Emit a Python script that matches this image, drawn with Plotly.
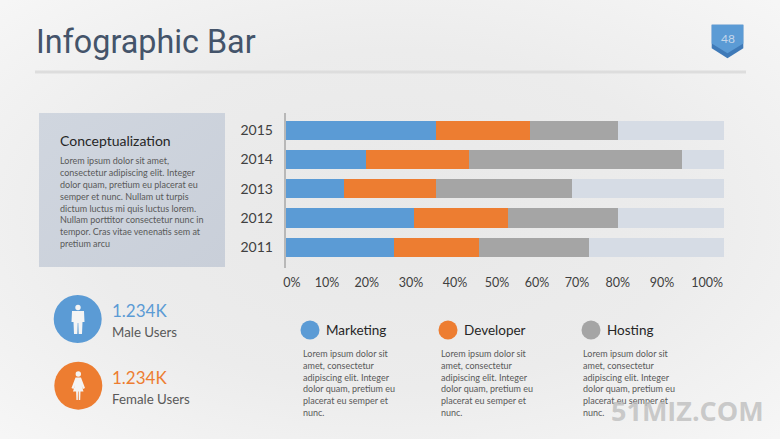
import base64
import plotly.graph_objects as go

W, H = 780, 439

# ---- data ----
years = ["2011", "2012", "2013", "2014", "2015"]
marketing = [24.6, 29.2, 13.2, 18.2, 34.3]
developer = [19.5, 21.5, 21.1, 23.7, 21.4]
hosting = [25.0, 25.1, 30.9, 48.5, 20.1]
remainder = [30.9, 24.2, 34.8, 9.6, 24.2]
tick_labels = ["0%", "10%", "20%", "30%", "40%", "50%", "60%", "70%", "80%", "90%", "100%"]
# label positions as drawn in the source chart, on the same 0-100 track scale
tick_positions = [1.4, 9.4, 18.5, 28.6, 38.6, 48.2, 57.3, 66.4, 75.7, 85.8, 96.1]

C_BLUE, C_ORANGE, C_GRAY, C_TRACK = "#5b9bd5", "#ed7d31", "#a5a5a5", "#d6dce5"
C_TEXT = "#595959"
LOREM_PANEL = ["Lorem ipsum dolor sit amet,", "consectetur adipiscing elit. Integer",
               "dolor quam, pretium eu placerat eu", "semper et nunc. Nullam ut turpis",
               "dictum luctus mi quis luctus lorem.", "Nullam porttitor consectetur nunc in",
               "tempor. Cras vitae venenatis sem at", "pretium arcu"]
LOREM_COL = ["Lorem ipsum dolor sit", "amet, consectetur", "adipiscing elit. Integer",
             "dolor quam, pretium eu", "placerat eu semper et", "nunc."]


def px(x):
    return x / W


def py(y):
    return 1 - y / H


fig = go.Figure()
for name, vals, col in [("Marketing", marketing, C_BLUE), ("Developer", developer, C_ORANGE),
                        ("Hosting", hosting, C_GRAY), ("Remainder", remainder, C_TRACK)]:
    fig.add_bar(y=years, x=vals, name=name, orientation="h", marker=dict(color=col, line_width=0),
                showlegend=False)

bg_svg = f'''<svg xmlns="http://www.w3.org/2000/svg" width="{W}" height="{H}">
<defs><radialGradient id="g" cx="50%" cy="50%" r="70%">
<stop offset="0" stop-color="#e8e8e8"/><stop offset="0.55" stop-color="#ececec"/><stop offset="1" stop-color="#f6f6f6"/>
</radialGradient>
<linearGradient id="p" x1="0" y1="0" x2="1" y2="1"><stop offset="0" stop-color="#d0d6df"/><stop offset="1" stop-color="#c9cfd9"/></linearGradient>
</defs>
<rect width="{W}" height="{H}" fill="url(#g)"/>
<rect x="39" y="113" width="186" height="154" fill="url(#p)"/>
</svg>'''
bg_uri = "data:image/svg+xml;base64," + base64.b64encode(bg_svg.encode()).decode()

shapes = []


def circle(cx, cy, r, col):
    shapes.append(dict(type="circle", xref="paper", yref="paper", layer="above",
                       x0=px(cx - r), x1=px(cx + r), y0=py(cy + r), y1=py(cy - r),
                       fillcolor=col, line_width=0))


def poly(points, col):
    d = "M" + " L".join(f"{px(x):.5f},{py(y):.5f}" for x, y in points) + " Z"
    shapes.append(dict(type="path", xref="paper", yref="paper", layer="above", path=d,
                       fillcolor=col, line_width=0))


# title rule
shapes.append(dict(type="rect", xref="paper", yref="paper", layer="below", x0=px(35), x1=px(746),
                   y0=py(73.5), y1=py(70.5), fillcolor="#dddddd", line_width=0))
# page badge
poly([(711.7, 24.7), (743.3, 24.7), (743.3, 48.3), (727.5, 58.3), (711.7, 48.3)], "#3f7ab8")
poly([(711.7, 24.7), (743.3, 24.7), (743.3, 43.5), (727.5, 53.3), (711.7, 43.5)], "#5b9bd5")

# user circles
circle(77.7, 319, 24, C_BLUE)
circle(78.3, 385.7, 24, C_ORANGE)
# male icon
circle(78, 307.5, 2.7, "#f4f4f4")
poly([(72, 311), (84, 311), (84.5, 322), (82.5, 322), (82, 334), (78.7, 334), (78.3, 323),
      (77.7, 323), (77.3, 334), (74, 334), (73.5, 322), (71.5, 322)], "#f4f4f4")
# female icon
circle(78.3, 374, 2.7, "#f4f4f4")
poly([(75.5, 377.5), (81, 377.5), (85, 388), (83, 389), (81.5, 385), (83.5, 391.5), (80.5, 391.5),
      (80.2, 400), (78.8, 400), (78.6, 391.5), (78, 391.5), (77.8, 400), (76.4, 400), (76.1, 391.5),
      (73, 391.5), (75, 385), (73.5, 389), (71.5, 388)], "#f4f4f4")
# legend circles
for cx, col in [(310, C_BLUE), (448, C_ORANGE), (591, C_GRAY)]:
    circle(cx, 330, 9.5, col)

ann = []


def text(x, y, s, size, col, font="Lato", anchor="left"):
    ann.append(dict(xref="paper", yref="paper", x=px(x), y=py(y), text=s, showarrow=False,
                    xanchor=anchor, yanchor="middle", xshift=0,
                    font=dict(family=font, size=size, color=col), borderpad=0))


text(35, 42, "Infographic Bar", 32.3, "#44546a", "Roboto")
text(727.5, 38.5, "48", 12, "#c3d6ea", "Lato", "center")
text(59, 140, "Conceptualization", 14, "#262626")
for i, line in enumerate(LOREM_PANEL):
    text(59, 161 + i * 11.75, line, 9, C_TEXT)
text(111, 310, "1.234K", 17, C_BLUE, "Lato")
text(111, 331.5, "Male Users", 13.3, C_TEXT)
text(111, 377.5, "1.234K", 17, C_ORANGE, "Lato")
text(111, 398.5, "Female Users", 13.3, C_TEXT)
for x0, xb, name in [(324.5, 301.5, "Marketing"), (463, 439.7, "Developer"), (605.5, 582, "Hosting")]:
    text(x0, 330, name, 13.5, "#262626")
    for i, line in enumerate(LOREM_COL):
        text(xb, 353.7 + i * 11.75, line, 9, C_TEXT)
text(610, 410, "51MIZ.COM", 27, "rgba(190,190,190,0.8)", "Open Sans")
ann[-1]["font"]["weight"] = 700

fig.update_layout(
    template="none",
    width=W, height=H, margin=dict(l=0, r=0, t=0, b=0, autoexpand=False), autosize=False,
    paper_bgcolor="#eeeeee", plot_bgcolor="rgba(0,0,0,0)",
    barmode="stack", bargap=0.34,
    images=[dict(source=bg_uri, xref="paper", yref="paper", x=0, y=1, sizex=1, sizey=1,
                 sizing="stretch", layer="below", xanchor="left", yanchor="top")],
    shapes=shapes, annotations=ann,
    xaxis=dict(domain=[px(285.7), px(724.3)], range=[0, 100], tickmode="array", automargin=False,
               tickvals=tick_positions, ticktext=tick_labels, showgrid=False, zeroline=False,
               showline=False, ticks="", ticklabelstandoff=5,
               tickfont=dict(family="Lato", size=12.5, color="#404040")),
    yaxis=dict(domain=[py(268), py(113)], range=[-0.71, 4.59], type="category", automargin=False,
               categoryorder="array", categoryarray=years, showgrid=False, zeroline=False,
               showline=True, linecolor="#b8b8b8", linewidth=2, ticks="", ticklabelstandoff=8,
               tickfont=dict(family="Lato", size=14, color="#404040")),
)

fig.write_html("out.html", config=dict(displayModeBar=False),
               post_script="document.documentElement.style.overflow='hidden';"
                           "document.body.style.margin='0';document.body.style.overflow='hidden';")
